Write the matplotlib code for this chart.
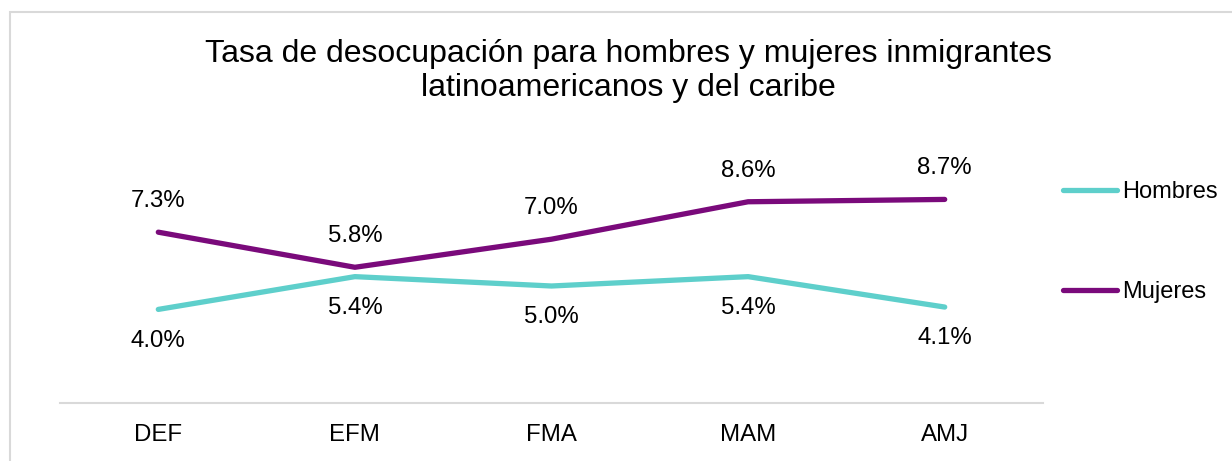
import matplotlib
matplotlib.use("Agg")
import matplotlib.pyplot as plt
from matplotlib.patches import Rectangle

plt.rcParams['font.family'] = ['Liberation Sans', 'DejaVu Sans']

categories = ["DEF", "EFM", "FMA", "MAM", "AMJ"]
hombres = [4.0, 5.4, 5.0, 5.4, 4.1]
mujeres = [7.3, 5.8, 7.0, 8.6, 8.7]
title = "Tasa de desocupación para hombres y mujeres inmigrantes\nlatinoamericanos y del caribe"

c_h = "#5ECFCB"
c_m = "#7A0A7B"

W, H = 1232, 461
fig = plt.figure(figsize=(W / 100, H / 100), dpi=100)
fig.patch.set_facecolor("white")

# border of the chart area (cropped at right/bottom)
fig.patches.append(Rectangle((10 / W, -0.1), 1.1, (H - 12) / H + 0.1,
                             transform=fig.transFigure, fill=False,
                             edgecolor="#D9D9D9", linewidth=1.5))

ax = fig.add_axes([60 / W, 58 / H, (1043 - 60) / W, (403 - 169) / H])
x = list(range(len(categories)))
lh, = ax.plot(x, hombres, color=c_h, linewidth=3.8, solid_capstyle="round", label="Hombres")
lm, = ax.plot(x, mujeres, color=c_m, linewidth=3.8, solid_capstyle="round", label="Mujeres")

for xi, v in zip(x, hombres):
    ax.annotate(f"{v:.1f}%", (xi, v), xytext=(0, -22.5), textcoords="offset points",
                ha="center", va="center", fontsize=17.3, color="#000000")
for xi, v in zip(x, mujeres):
    ax.annotate(f"{v:.1f}%", (xi, v), xytext=(0, 22.5), textcoords="offset points",
                ha="center", va="center", fontsize=17.3, color="#000000")

ax.set_xlim(-0.5, len(categories) - 0.5)
ax.set_ylim(0, 10)
ax.set_xticks(x)
ax.set_xticklabels(categories, fontsize=17.3)
ax.tick_params(axis="x", length=0, pad=15)
ax.set_yticks([])
for s in ["top", "right", "left"]:
    ax.spines[s].set_visible(False)
ax.spines["bottom"].set_color("#D9D9D9")
ax.spines["bottom"].set_linewidth(1.5)

fig.text(628 / W, (H - 71) / H, title, ha="center", va="center", fontsize=23,
         linespacing=1.2)

fig.legend(handles=[lh, lm], loc="center left", bbox_to_anchor=(1063 / W, (H - 242) / H),
           frameon=False, fontsize=17, labelspacing=3.3, handlelength=2.3,
           handletextpad=0.2, borderpad=0, borderaxespad=0)

fig.savefig("out.png", dpi=100)
